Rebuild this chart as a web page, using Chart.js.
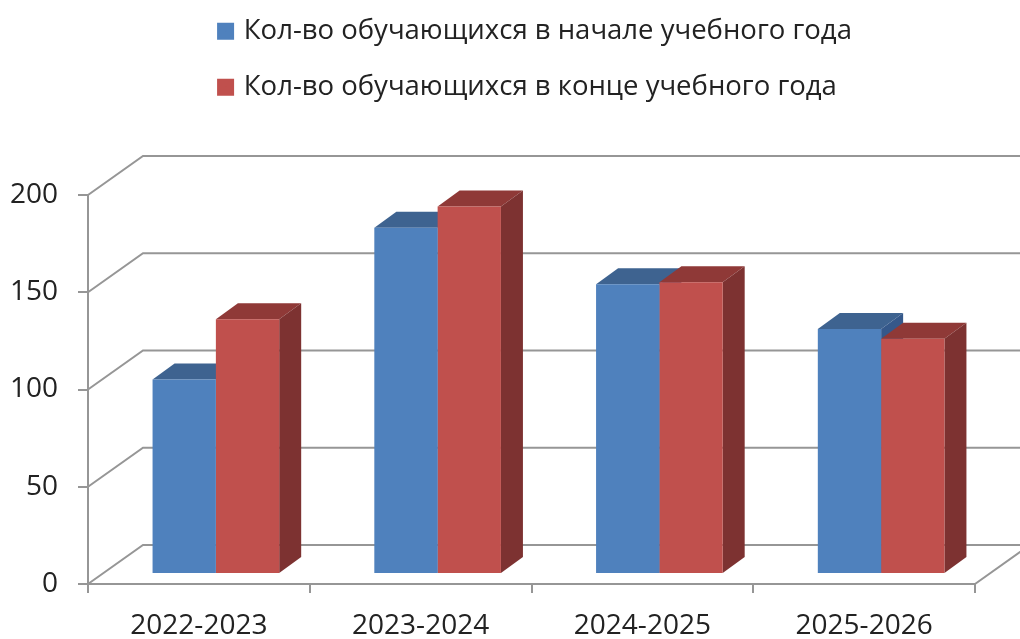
<!DOCTYPE html>
<html>
<head>
<meta charset="utf-8">
<script src="https://cdn.jsdelivr.net/npm/chart.js@4"></script>
<style>
  body { margin: 0; background: #fff; }
</style>
</head>
<body>
<canvas id="myChart" width="1020" height="639"></canvas>
<script>
const categories = ['2022-2023', '2023-2024', '2024-2025', '2025-2026'];
const startOfYear = [100, 178, 149, 126];
const endOfYear = [131, 189, 150, 121];
const seriesNames = ['Кол-во обучающихся в начале учебного года', 'Кол-во обучающихся в конце учебного года'];
const yTicks = [0, 50, 100, 150, 200];

const fontName = '"Open Sans", sans-serif';
const textColor = '#222222';
const lineColor = '#969696';

// fake 3d: back wall offset, and where the bars stand between front and wall
const wallDx = 55, wallDy = -39;
const barShiftX = 17, barShiftY = -10;
const depthDx = 22, depthDy = -16;
const topColors = ['#3e6390', '#8f3937'];
const sideColors = ['#35588a', '#7d3231'];

function poly(ctx, pts, color) {
    ctx.fillStyle = color;
    ctx.beginPath();
    pts.forEach((p, i) => i ? ctx.lineTo(p[0], p[1]) : ctx.moveTo(p[0], p[1]));
    ctx.closePath();
    ctx.fill();
}

const fake3d = {
    id: 'fake3d',
    afterLayout(chart) {
        // both legend rows start at the same x, block sits right of centre
        const legend = chart.legend;
        legend.lineWidths = [legend.lineWidths[0], legend.lineWidths[0]];
        legend.left += 49;
        legend.right += 49;
        legend.top -= 84;
        legend.bottom -= 84;
    },
    beforeDatasetsDraw(chart) {
        const ctx = chart.ctx;
        const area = chart.chartArea;
        const y = chart.scales.y;

        // walls and floor
        ctx.save();
        ctx.strokeStyle = lineColor;
        ctx.lineWidth = 2;
        ctx.beginPath();
        y.ticks.forEach(t => {
            const py = y.getPixelForValue(t.value);
            ctx.moveTo(area.left, py);
            ctx.lineTo(area.left + wallDx, py + wallDy);
            ctx.lineTo(chart.width, py + wallDy);
        });
        ctx.moveTo(area.right, area.bottom);
        ctx.lineTo(area.right + wallDx, area.bottom + wallDy);
        ctx.stroke();

        // tops and sides of the bars, fronts come from the library
        ctx.translate(barShiftX, barShiftY);
        chart.data.datasets.forEach((ds, i) => {
            chart.getDatasetMeta(i).data.forEach(el => {
                const l = el.x - el.width / 2, r = el.x + el.width / 2;
                poly(ctx, [[l, el.y], [l + depthDx, el.y + depthDy], [r + depthDx, el.y + depthDy], [r, el.y]], topColors[i]);
                poly(ctx, [[r, el.y], [r + depthDx, el.y + depthDy], [r + depthDx, el.base + depthDy], [r, el.base]], sideColors[i]);
            });
        });
        ctx.restore();

        ctx.save();
        ctx.translate(barShiftX, barShiftY);
    },
    afterDatasetsDraw(chart) {
        chart.ctx.restore();
    }
};

new Chart(document.getElementById('myChart'), {
    type: 'bar',
    data: {
        labels: categories,
        datasets: [
            { label: seriesNames[0], data: startOfYear, backgroundColor: '#4f81bd', clip: false },
            { label: seriesNames[1], data: endOfYear, backgroundColor: '#c0504d', clip: false }
        ]
    },
    plugins: [fake3d],
    options: {
        responsive: false,
        animation: false,
        barPercentage: 1,
        categoryPercentage: 0.571,
        layout: { padding: { top: 73, right: 45 } },
        plugins: {
            tooltip: { enabled: false },
            legend: {
                position: 'top',
                labels: {
                    color: textColor,
                    boxWidth: 9,
                    boxHeight: 9,
                    padding: 28.5,
                    font: { family: fontName, size: 27.5 },
                    generateLabels(chart) {
                        // thick border around a small box, keeps the text close to the square
                        return Chart.defaults.plugins.legend.labels.generateLabels(chart).map(item => {
                            item.lineWidth = 8;
                            item.strokeStyle = item.fillStyle;
                            return item;
                        });
                    }
                }
            }
        },
        scales: {
            x: {
                afterFit(scale) { scale.height = 55; },
                border: { color: lineColor, width: 2 },
                grid: { offset: true, drawOnChartArea: false, color: lineColor, lineWidth: 2, tickLength: 9 },
                ticks: { color: textColor, padding: 16, maxRotation: 0, font: { family: fontName, size: 28 } }
            },
            y: {
                min: yTicks[0],
                max: yTicks[yTicks.length - 1],
                afterFit(scale) { scale.width = 88; },
                afterBuildTicks(scale) { scale.ticks = yTicks.map(v => ({ value: v })); },
                border: { color: lineColor, width: 2 },
                grid: { drawOnChartArea: false, color: lineColor, lineWidth: 2, tickLength: 10 },
                ticks: { color: textColor, padding: 20, font: { family: fontName, size: 28 } }
            }
        }
    }
});
</script>
</body>
</html>
